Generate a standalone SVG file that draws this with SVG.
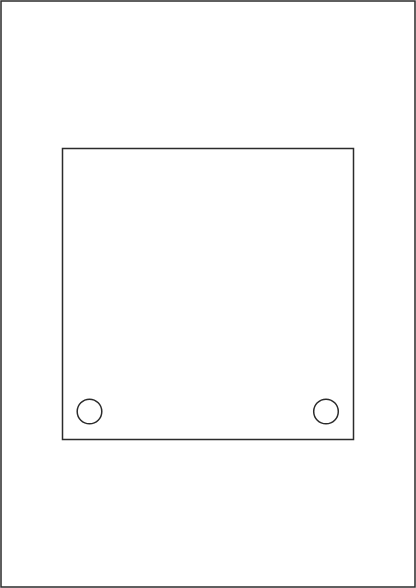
<svg xmlns="http://www.w3.org/2000/svg" width="416" height="588" viewBox="0 0 416 588">
<style>
.s{fill:#fff;stroke:#2b2b2b;stroke-width:1.5}
.h{fill:none;stroke:#2b2b2b;stroke-width:1.5}
</style>
<rect width="416" height="588" fill="#fff"/>
<g id="outer"><rect class="s" x="1" y="1" width="414" height="586"/></g>
<g id="panel"><rect class="s" x="62.5" y="148.5" width="291" height="291"/></g>
<g id="hole-left"><circle class="h" cx="89.5" cy="411.5" r="12.3"/></g>
<g id="hole-right"><circle class="h" cx="326" cy="411.5" r="12.3"/></g>
<g id="connectors"/>
</svg>
